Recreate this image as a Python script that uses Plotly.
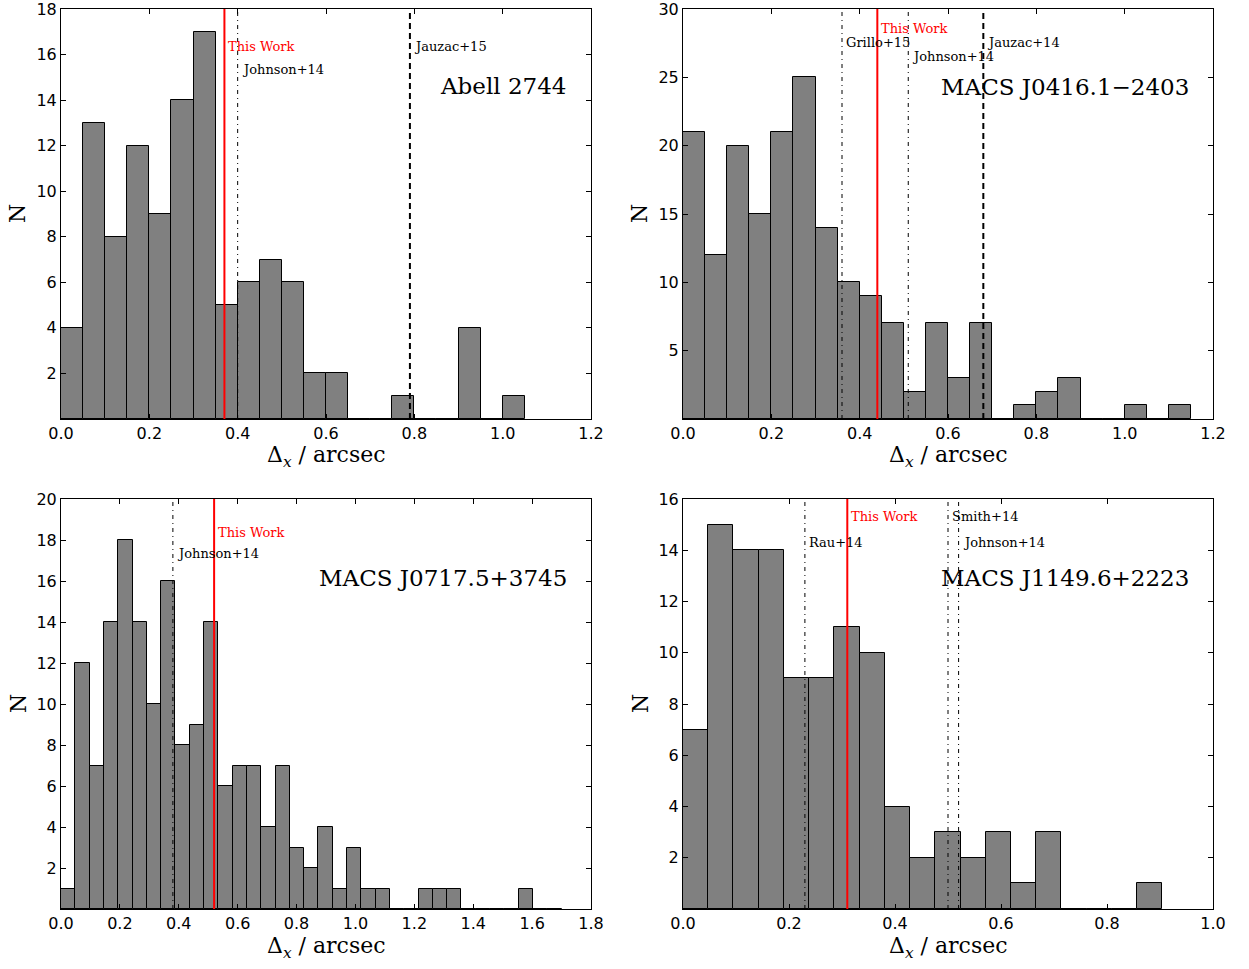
import plotly.graph_objects as go

# ---------------- data ----------------
a2744_width = 0.05
a2744_counts = [4, 13, 8, 12, 9, 14, 17, 5, 6, 7, 6, 2, 2, 0, 0, 1, 0, 0, 4, 0, 1]

j0416_width = 0.05
j0416_counts = [21, 12, 20, 15, 21, 25, 14, 10, 9, 7, 2, 7, 3, 7, 0, 1, 2, 3, 0, 0, 1, 0, 1]

j0717_width = 0.04857
j0717_counts = [1, 12, 7, 14, 18, 14, 10, 16, 8, 9, 14, 6, 7, 7, 4, 7, 3, 2, 4, 1, 3, 1, 1,
                0, 0, 1, 1, 1, 0, 0, 0, 0, 1, 0, 0]

j1149_width = 0.0476
j1149_counts = [7, 15, 14, 14, 9, 9, 11, 10, 4, 2, 3, 2, 3, 1, 3, 0, 0, 0, 1]

cluster_names = ["Abell 2744", "MACS J0416.1\u22122403", "MACS J0717.5+3745", "MACS J1149.6+2223"]

# reference lines: value, label, style, label height (in N units)
a2744_refs = [(0.37, "This Work", "this", 16.35), (0.40, "Johnson+14", "dashdot", 15.35),
              (0.79, "Jauzac+15", "dashed", 16.35)]
j0416_refs = [(0.36, "Grillo+15", "dashdot", 27.55), (0.44, "This Work", "this", 28.55),
              (0.51, "Johnson+14", "dashdot", 26.5), (0.68, "Jauzac+14", "dashed", 27.55)]
j0717_refs = [(0.38, "Johnson+14", "dashdot", 17.35), (0.52, "This Work", "this", 18.35)]
j1149_refs = [(0.23, "Rau+14", "dashdot", 14.3), (0.31, "This Work", "this", 15.3),
              (0.50, "Smith+14", "dashdot", 15.3), (0.52, "Johnson+14", "dashdot", 14.3)]

name_heights = [14.6, 24.3, 16.15, 12.9]

x_ranges = [[0, 1.2], [0, 1.2], [0, 1.8], [0, 1.0]]
x_ticks = [[0, 0.2, 0.4, 0.6, 0.8, 1.0, 1.2], [0, 0.2, 0.4, 0.6, 0.8, 1.0, 1.2],
           [0, 0.2, 0.4, 0.6, 0.8, 1.0, 1.2, 1.4, 1.6, 1.8], [0, 0.2, 0.4, 0.6, 0.8, 1.0]]
y_ranges = [[0, 18], [0, 30], [0, 20], [0, 16]]
y_ticks = [[2, 4, 6, 8, 10, 12, 14, 16, 18], [5, 10, 15, 20, 25, 30],
           [2, 4, 6, 8, 10, 12, 14, 16, 18, 20], [2, 4, 6, 8, 10, 12, 14, 16]]

x_title = "\u0394<sub><i>x</i></sub> / arcsec"
y_title = "N"

# ---------------- figure ----------------
W, H = 1249, 969
SERIF = "DejaVu Serif"
SANS = "DejaVu Sans"

panels = [
    (a2744_counts, a2744_width, a2744_refs),
    (j0416_counts, j0416_width, j0416_refs),
    (j0717_counts, j0717_width, j0717_refs),
    (j1149_counts, j1149_width, j1149_refs),
]

px_boxes = [(61, 591, 9, 419), (683, 1213, 9, 419), (61, 591, 499, 909), (683, 1213, 499, 909)]

fig = go.Figure()
shapes = []
annotations = []
layout = {}

for i, (counts, width, refs) in enumerate(panels):
    n = i + 1
    xa = "x" if n == 1 else f"x{n}"
    ya = "y" if n == 1 else f"y{n}"
    centers = [width * (k + 0.5) for k in range(len(counts))]
    fig.add_trace(go.Bar(
        x=centers, y=counts, width=[width] * len(counts),
        marker=dict(color="#808080", line=dict(color="black", width=1)),
        xaxis=xa, yaxis=ya, showlegend=False, hoverinfo="x+y",
    ))
    l, r, t, b = px_boxes[i]
    axis_common = dict(showline=True, linecolor="black", linewidth=1, mirror="ticks",
                       ticks="inside", ticklen=5, tickwidth=1, tickcolor="black",
                       showgrid=False, zeroline=False, automargin=False,
                       ticklabeloverflow="allow",
                       tickfont=dict(family=SANS, size=16, color="black"))
    layout["xaxis" if n == 1 else f"xaxis{n}"] = dict(
        domain=[l / W, r / W], anchor=ya, range=x_ranges[i], tickvals=x_ticks[i],
        tickformat=".1f", **axis_common)
    layout["yaxis" if n == 1 else f"yaxis{n}"] = dict(
        domain=[1 - b / H, 1 - t / H], anchor=xa, range=y_ranges[i], tickvals=y_ticks[i],
        **axis_common)

    # axis titles
    annotations.append(dict(x=0.5, y=0, xref=f"{xa} domain", yref=f"{ya} domain",
                            text=x_title, showarrow=False, xanchor="center", yanchor="middle",
                            yshift=-38, font=dict(family=SERIF, size=22, color="black")))
    annotations.append(dict(x=0, y=0.5, xref=f"{xa} domain", yref=f"{ya} domain",
                            text=y_title, showarrow=False, xanchor="center", yanchor="middle",
                            xshift=-43, textangle=-90,
                            font=dict(family=SERIF, size=22, color="black")))

    for (xv, label, style, ly) in refs:
        if style == "this":
            line = dict(color="red", width=2)
            tcol = "red"
        elif style == "dashed":
            line = dict(color="black", width=2, dash="6px,4px")
            tcol = "black"
        else:
            line = dict(color="black", width=1, dash="4px,4px,1px,4px")
            tcol = "black"
        shapes.append(dict(type="line", xref=xa, yref=f"{ya} domain", x0=xv, x1=xv,
                           y0=0, y1=1, line=line, layer="above"))
        annotations.append(dict(x=xv, y=ly, xref=xa, yref=ya, text=label, showarrow=False,
                                xanchor="left", yanchor="middle", xshift=2,
                                font=dict(family=SERIF, size=13, color=tcol)))
    annotations.append(dict(x=(r - 22 - l) / (r - l), y=name_heights[i], xref=f"{xa} domain",
                            yref=ya, text=cluster_names[i], showarrow=False,
                            xanchor="right", yanchor="middle",
                            font=dict(family=SERIF, size=23, color="black")))

fig.update_layout(
    width=W, height=H, autosize=False,
    margin=dict(l=0, r=0, t=0, b=0, autoexpand=False),
    paper_bgcolor="white", plot_bgcolor="white",
    bargap=0, shapes=shapes, annotations=annotations,
    **layout,
)

fig.write_html(
    "out.html",
    config={"displayModeBar": False},
    post_script="document.body.style.margin='0';document.body.style.overflow='hidden';",
)
